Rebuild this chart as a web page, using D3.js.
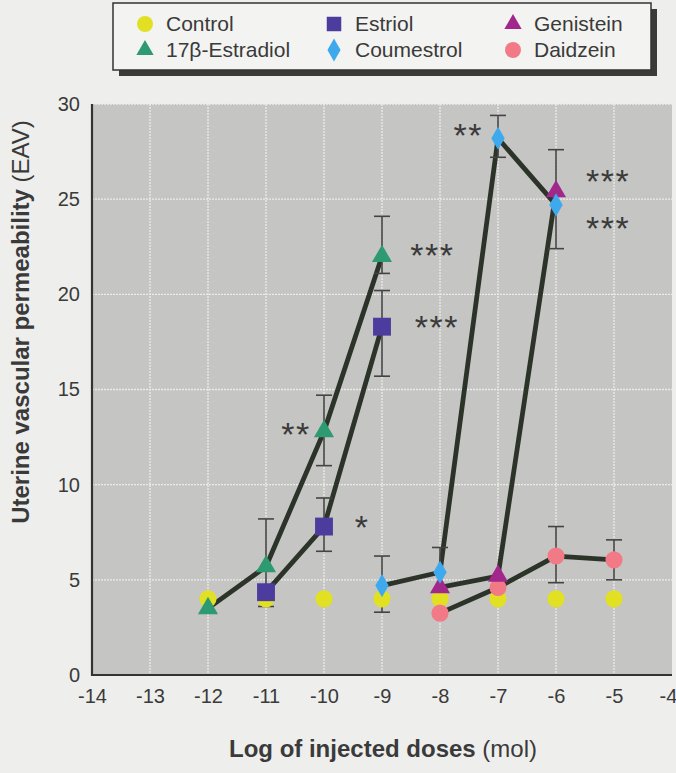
<!DOCTYPE html>
<html><head><meta charset="utf-8">
<script src="https://cdn.jsdelivr.net/npm/d3@7"></script>
<style>
html,body{margin:0;padding:0;background:#eeeeec;}
svg{display:block;}
text{font-family:"Liberation Sans Narrow","Liberation Sans",Arial,sans-serif;font-stretch:condensed;fill:#3a3a3a;}
</style></head>
<body><svg id="c" width="676" height="773"></svg>
<script>
// ---- data ----
const doses = [-12, -11, -10, -9, -8, -7, -6, -5];
const xTicks = [-14, -13, -12, -11, -10, -9, -8, -7, -6, -5, -4];
const yTicks = [0, 5, 10, 15, 20, 25, 30];

const controlVals   = [4.0, 4.0, 4.0, 4.0, 4.0, 4.0, 4.0, 4.0];
const estradiolVals = [3.5, 5.7, 12.8, 22.0, null, null, null, null];
const estradiolLo   = [null, 3.6, 11.0, 21.1, null, null, null, null];
const estradiolHi   = [null, 8.2, 14.7, 24.1, null, null, null, null];
const estriolVals   = [null, 4.35, 7.8, 18.3, null, null, null, null];
const estriolLo     = [null, null, 6.5, 15.7, null, null, null, null];
const estriolHi     = [null, null, 9.3, 20.2, null, null, null, null];
const coumestrolVals= [null, null, null, 4.7, 5.4, 28.2, 24.7, null];
const coumestrolLo  = [null, null, null, 3.3, null, 27.2, 22.4, null];
const coumestrolHi  = [null, null, null, 6.25, 6.7, 29.4, null, null];
const genisteinVals = [null, null, null, null, 4.6, 5.2, 25.4, null];
const genisteinLo   = [null, null, null, null, null, null, null, null];
const genisteinHi   = [null, null, null, null, null, null, 27.6, null];
const daidzeinVals  = [null, null, null, null, 3.25, 4.6, 6.25, 6.05];
const daidzeinLo    = [null, null, null, null, null, null, 4.85, 5.0];
const daidzeinHi    = [null, null, null, null, null, null, 7.8, 7.1];

// significance markers (centre dose, centre value, label)
const sigDoses  = [-10.5, -9.36, -8.15, -8.07, -7.53, -5.12, -5.12];
const sigVals   = [12.8, 7.9, 22.2, 18.4, 28.5, 26.1, 23.6];
const sigLabels = ["**", "*", "***", "***", "**", "***", "***"];

const legendNames = ["Control", "17β-Estradiol", "Estriol", "Coumestrol", "Genistein", "Daidzein"];

// ---- styles ----
const styles = {
  "Control":       {color:"#e2e022", shape:"circle"},
  "17β-Estradiol": {color:"#2e9a72", shape:"triangle"},
  "Estriol":       {color:"#4c3c9e", shape:"square"},
  "Coumestrol":    {color:"#3fa9ee", shape:"diamond"},
  "Genistein":     {color:"#a1278b", shape:"triangle"},
  "Daidzein":      {color:"#f27a86", shape:"circle"}
};
const series = [
  {name:"Control", vals:controlVals, lo:null, hi:null, line:false},
  {name:"Daidzein", vals:daidzeinVals, lo:daidzeinLo, hi:daidzeinHi, line:true},
  {name:"Genistein", vals:genisteinVals, lo:genisteinLo, hi:genisteinHi, line:true},
  {name:"Coumestrol", vals:coumestrolVals, lo:coumestrolLo, hi:coumestrolHi, line:true},
  {name:"17β-Estradiol", vals:estradiolVals, lo:estradiolLo, hi:estradiolHi, line:true},
  {name:"Estriol", vals:estriolVals, lo:estriolLo, hi:estriolHi, line:true}
];

const svg = d3.select("#c");
const L = 92, R = 672, T = 104, B = 675;
const x = d3.scaleLinear().domain([-14, -4]).range([L, R]);
const y = d3.scaleLinear().domain([0, 30]).range([B, T]);
const fmt = d => String(d);

// plot background
svg.append("rect").attr("x", L).attr("y", T).attr("width", R - L).attr("height", B - T).attr("fill", "#c5c5c3");

// grid
const grid = svg.append("g");
grid.selectAll("line.v").data(xTicks.slice(1, -1)).join("line")
  .attr("x1", d => x(d)).attr("x2", d => x(d)).attr("y1", T).attr("y2", B)
  .attr("stroke", "#ececec").attr("stroke-width", 1.3).attr("stroke-dasharray", "2,1");
grid.selectAll("line.h").data(yTicks.slice(1)).join("line")
  .attr("y1", d => y(d)).attr("y2", d => y(d)).attr("x1", L).attr("x2", R)
  .attr("stroke", "#ececec").attr("stroke-width", 1.3).attr("stroke-dasharray", "2,1");

// axes
const xAxis = d3.axisBottom(x).tickValues(xTicks).tickSize(0).tickPadding(14).tickFormat(fmt);
const yAxis = d3.axisLeft(y).tickValues(yTicks).tickSize(0).tickPadding(12).tickFormat(fmt);
const gx = svg.append("g").attr("transform", `translate(0,${B})`).call(xAxis);
const gy = svg.append("g").attr("transform", `translate(${L},0)`).call(yAxis);
[gx, gy].forEach(g => {
  g.select(".domain").remove();
  g.selectAll("text").style("font-size", "20px").attr("fill", "#3a3a3a")
    .style("font-family", '"Liberation Sans Narrow","Liberation Sans",Arial,sans-serif');
});
gx.selectAll("text").attr("dy", "0.71em");
gx.selectAll(".tick").filter(d => d === -4).select("text").attr("dx", "-4");
svg.append("line").attr("x1", L).attr("x2", L).attr("y1", T).attr("y2", B + 1).attr("stroke", "#333").attr("stroke-width", 2.2);
svg.append("line").attr("x1", L - 1).attr("x2", R).attr("y1", B).attr("y2", B).attr("stroke", "#333").attr("stroke-width", 2.2);

// lines
const lineGen = d3.line().defined(d => d[1] != null).x(d => x(d[0])).y(d => y(d[1]));
series.filter(s => s.line).forEach(s => {
  svg.append("path").datum(doses.map((d, i) => [d, s.vals[i]]))
    .attr("d", lineGen).attr("fill", "none").attr("stroke", "#2c3429").attr("stroke-width", 4.8)
    .attr("stroke-linejoin", "round").attr("stroke-linecap", "round");
});

// error bars
const eb = svg.append("g").attr("stroke", "#444").attr("stroke-width", 1.6).attr("fill", "none");
series.forEach(s => {
  if (!s.lo) return;
  doses.forEach((d, i) => {
    const v = s.vals[i]; if (v == null) return;
    const lo = s.lo[i], hi = s.hi[i];
    const cx = x(d), w = 8;
    if (hi != null) {
      eb.append("line").attr("x1", cx).attr("x2", cx).attr("y1", y(v)).attr("y2", y(hi));
      eb.append("line").attr("x1", cx - w).attr("x2", cx + w).attr("y1", y(hi)).attr("y2", y(hi));
    }
    if (lo != null) {
      eb.append("line").attr("x1", cx).attr("x2", cx).attr("y1", y(v)).attr("y2", y(lo));
      eb.append("line").attr("x1", cx - w).attr("x2", cx + w).attr("y1", y(lo)).attr("y2", y(lo));
    }
  });
});

// markers
function symPath(shape) {
  if (shape === "circle") return d3.symbol(d3.symbolCircle, 230)();
  if (shape === "square") return d3.symbol(d3.symbolSquare, 320)();
  if (shape === "triangle") return d3.symbol(d3.symbolTriangle, 175)();
  if (shape === "diamond") return d3.symbol(d3.symbolDiamond, 155)();
}
series.forEach(s => {
  const st = styles[s.name];
  svg.append("g").selectAll("path").data(doses.map((d, i) => [d, s.vals[i]]).filter(p => p[1] != null))
    .join("path").attr("d", symPath(st.shape))
    .attr("transform", p => `translate(${x(p[0])},${y(p[1])})`)
    .attr("fill", st.color);
});

// significance
svg.append("g").selectAll("text").data(sigLabels).join("text")
  .attr("x", (d, i) => x(sigDoses[i]) + 1).attr("y", (d, i) => y(sigVals[i]))
  .attr("text-anchor", "middle").attr("dy", "0.43em")
  .style("font-size", "34px").style("letter-spacing", "1.5px").attr("fill", "#3d473d")
  .text(d => d);

// axis titles
const xt = svg.append("text").attr("x", 383).attr("y", 757).attr("text-anchor", "middle")
  .style("font-size", "24px");
xt.append("tspan").style("font-weight", "bold").text("Log of injected doses ");
xt.append("tspan").text("(mol)");
const yt = svg.append("text").attr("transform", "translate(29,322) rotate(-90)").attr("text-anchor", "middle")
  .style("font-size", "24px");
yt.append("tspan").style("font-weight", "bold").text("Uterine vascular permeability ");
yt.append("tspan").text("(EAV)");

// legend
const lg = svg.append("g");
lg.append("rect").attr("x", 119).attr("y", 9).attr("width", 538).attr("height", 67).attr("fill", "#3a3a38");
lg.append("rect").attr("x", 113).attr("y", 3).attr("width", 538).attr("height", 67)
  .attr("fill", "#f3f3f1").attr("stroke", "#333").attr("stroke-width", 1.5);
const colX = [145, 334, 513];
const rowY = [24, 50];
legendNames.forEach((n, i) => {
  const col = Math.floor(i / 2), row = i % 2;
  const st = styles[n];
  const size = st.shape === "circle" ? 200 : st.shape === "square" ? 210 : st.shape === "triangle" ? 130 : 150;
  const shp = st.shape === "circle" ? d3.symbolCircle : st.shape === "square" ? d3.symbolSquare : st.shape === "triangle" ? d3.symbolTriangle : d3.symbolDiamond;
  lg.append("path").attr("d", d3.symbol(shp, size)()).attr("transform", `translate(${colX[col]},${rowY[row]})`).attr("fill", st.color);
  lg.append("text").attr("x", colX[col] + 21).attr("y", rowY[row]).attr("dy", "0.35em")
    .style("font-size", "21px").text(n);
});
</script></body></html>
